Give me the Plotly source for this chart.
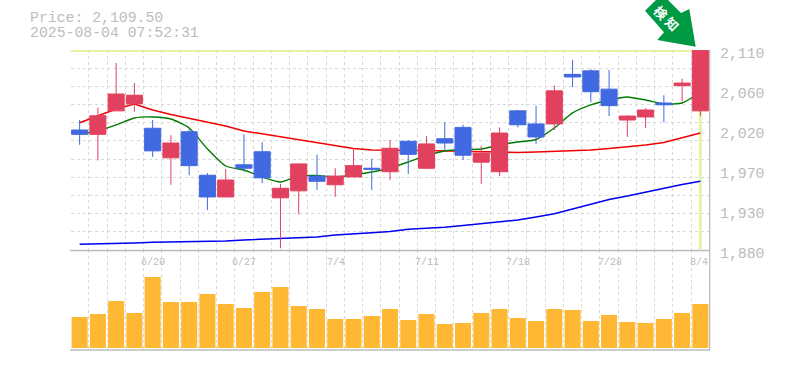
import plotly.graph_objects as go

# Candles (price units)
high_vals = [2029.5,2043.6,2095,2072,2029.5,2012,2019,1968.5,1973,2013,2004,1956,1979,1990,1974,1997,1985,2006.5,2006.5,2011,2027,2024,2000,2021,2041,2046,2069,2098.5,2088,2087,2035,2043,2058,2077,2109.5]
low_vals = [2001,1983,2040,2039,1987,1955,1966,1926,1941,1970,1957,1882,1921,1949,1941,1964,1949,1960.5,1967.5,1973,1995,1983.5,1956,1965,2021,2002,2018,2067.5,2050,2034,2010,2020,2027,2051,2034]
open_vals = [2018,2013,2040,2048,2020,1986,2016,1966,1941,1978,1993,1940,1948,1965,1955,1964,1974,1970,2005,1974,2008,2021,1981,1970,2040,2025,2025,2082,2086,2065,2029.5,2033,2049,2069,2040]
close_vals = [2013,2034.4,2059.4,2058,1994,2003,1977,1941,1960.5,1974,1963,1951,1979,1959,1965,1977,1973,1997,1990,2002,2003,1989,1991.5,2014.5,2024,2010,2063,2079,2062,2046,2034,2041,2047,2072,2109.5]
ma_short = [2013.4,2016.9,2023.8,2031.8,2033,2030.7,2020.3,1996.2,1976.6,1972,1964,1958.2,1965.1,1965.7,1964,1966.3,1969.7,1974.3,1981.2,1988.7,1993.9,1995.6,1996.2,2000.8,2004.2,2007.1,2020.3,2037.6,2046.8,2052.5,2056,2052.5,2048,2049,2061.7]
ma_mid = [2026.4,2034.7,2042.2,2047.9,2041,2035.8,2031.2,2027.2,2022.6,2016.9,2013.4,2010,2006.5,2003,1999.6,1996.7,1995,1994.4,1994.4,1994.4,1993.9,1993.3,1992.7,1992.1,1992.1,1992.7,1993.3,1993.9,1995,1996.7,1998.5,2000.8,2003.6,2008.8,2014.5]
ma_long = [1886.6,1886.9,1887.5,1888,1888.9,1889.2,1889.8,1890,1890.4,1891.5,1892.3,1893,1893.8,1895,1897.3,1899,1899.9,1901.3,1903.8,1905,1906.1,1908.2,1910.1,1912.4,1914.5,1918,1921.6,1927.2,1932.9,1938.1,1942.1,1946.7,1950.7,1955.3,1959]
volume = [31,34,47,35,71,46,46,54,44,40,56,61,42,39,29,29,32,39,28,34,24,25,35,39,30,27,39,38,27,33,26,25,29,35,44]
idx = list(range(35))
date_idx = [4,9,14,19,24,29,34]
date_labels = ["6/20","6/27","7/4","7/11","7/18","7/28","8/4"]
price_ticks = [2110,2064,2018,1972,1926,1880]
price_labels = ["2,110","2,060","2,020","1,970","1,930","1,880"]
last_price = 2109.5

GRID = "#d8d8d8"
GRAY = "#bcbcbc"
MONO = "Liberation Mono, monospace"
W, H = 785, 370

fig = go.Figure()
fig.add_trace(go.Bar(x=idx, y=volume, width=0.88, marker=dict(color="#ffb833", line_width=0),
                     xaxis="x2", yaxis="y2", showlegend=False))
fig.add_trace(go.Scatter(x=[idx[0]-0.5, idx[-1]+0.5], y=[last_price]*2, mode="lines", line=dict(color="#e3f4a8", width=3), zorder=1, cliponaxis=False))
fig.add_trace(go.Scatter(x=[idx[-1]]*2, y=[1881, last_price], mode="lines", line=dict(color="#e3f4a8", width=3), zorder=1))
fig.add_trace(go.Scatter(x=idx, y=ma_long, mode="lines", line=dict(color="#0000f0", width=1.5), zorder=2))
fig.add_trace(go.Scatter(x=idx, y=ma_mid, mode="lines", line=dict(color="#f00000", width=1.5), zorder=2))
fig.add_trace(go.Scatter(x=idx, y=ma_short, mode="lines", line=dict(color="#007a00", width=1.4, shape="spline", smoothing=0.6), zorder=2))
fig.add_trace(go.Candlestick(x=idx, open=open_vals, high=high_vals, low=low_vals, close=close_vals, whiskerwidth=0,
    increasing=dict(fillcolor="#e2405f", line=dict(color="#e2405f", width=1)),
    decreasing=dict(fillcolor="#4169e1", line=dict(color="#4169e1", width=1)), zorder=3))

annotations = []
for v, t in zip(price_ticks, price_labels):
    annotations.append(dict(x=1, xref="x domain", y=v, yref="y", text=t, showarrow=False, xanchor="left", xshift=8, yshift=-4,
                            font=dict(family=MONO, size=14.8, color=GRAY)))
for i, t in zip(date_idx, date_labels):
    annotations.append(dict(x=i, xref="x2", y=86, yref="y2", text=t, showarrow=False, xanchor="center",
                            xshift=-1.5 if t == "8/4" else 0.5, font=dict(family=MONO, size=10, color=GRAY)))
annotations.append(dict(x=28/W, y=1-18/H, xref="paper", yref="paper", text="Price: 2,109.50", showarrow=False, xanchor="left", yanchor="middle",
                        font=dict(family=MONO, size=14.8, color=GRAY)))
annotations.append(dict(x=28/W, y=1-33/H, xref="paper", yref="paper", text="2025-08-04 07:52:31", showarrow=False, xanchor="left", yanchor="middle",
                        font=dict(family=MONO, size=14.8, color=GRAY)))
annotations.append(dict(x=666/W, y=1-18/H, xref="paper", yref="paper", text="<b>検 知</b>", showarrow=False, textangle=45, xanchor="center", yanchor="middle",
                        font=dict(family="Noto Sans CJK JP", size=13, color="#ffffff")))

arrow_px = [(645,10.7),(656,0),(668,0),(681,13),(689.3,9),(695.7,46.7),(657.3,40),(664,32.3)]
arrow_path = "M " + " L ".join(f"{x/W:.5f},{1-y/H:.5f}" for x, y in arrow_px) + " Z"

def frame_line(x0, y0, x1, y1, width):
    return dict(type="line", xref="paper", yref="paper", x0=x0/W, x1=x1/W, y0=1-y0/H, y1=1-y1/H, line=dict(color=GRAY, width=width), layer="above")

grid_y = [1880 + i*230/11 for i in range(12)]
vgrid = [i-0.5 for i in range(36)]
fig.update_layout(
    width=W, height=H, margin=dict(l=0, r=0, t=0, b=0), paper_bgcolor="white", plot_bgcolor="white", showlegend=False,
    boxgap=0.12, boxgroupgap=0.0, boxmode="overlay",
    xaxis=dict(domain=[70.5/W, 709.5/W], range=[-0.5, 34.5], anchor="y", rangeslider=dict(visible=False), showticklabels=False, ticks="",
               tickmode="array", tickvals=vgrid, showgrid=True, gridcolor=GRID, griddash="3px,3px", gridwidth=1, zeroline=False, showline=False),
    yaxis=dict(domain=[1-250/H, 1-50/H], range=[1880, 2110], anchor="x", side="right", tickmode="array", tickvals=grid_y, showticklabels=False, ticks="",
               showgrid=True, gridcolor=GRID, griddash="3px,3px", gridwidth=1, zeroline=False, showline=False),
    xaxis2=dict(domain=[70.5/W, 709.5/W], range=[-0.5, 34.5], anchor="y2", tickmode="array", tickvals=vgrid, showticklabels=False, ticks="",
                showgrid=True, gridcolor=GRID, griddash="3px,3px", gridwidth=1, zeroline=False, showline=False),
    yaxis2=dict(domain=[1-350/H, 1-250/H], range=[-2, 98], anchor="x2", side="right", showticklabels=False, ticks="", showgrid=False, zeroline=False, showline=False),
    annotations=annotations,
    shapes=[dict(type="path", xref="paper", yref="paper", path=arrow_path, fillcolor="#009944", line_width=0, layer="below"),
            frame_line(70, 250.5, 710, 250.5, 1.3),
            frame_line(70, 350, 710, 350, 1.3),
            frame_line(709.7, 50, 709.7, 350, 1.3)],
)
fig.write_html("out.html", config={"displayModeBar": False}, post_script="document.body.style.margin='0';")
